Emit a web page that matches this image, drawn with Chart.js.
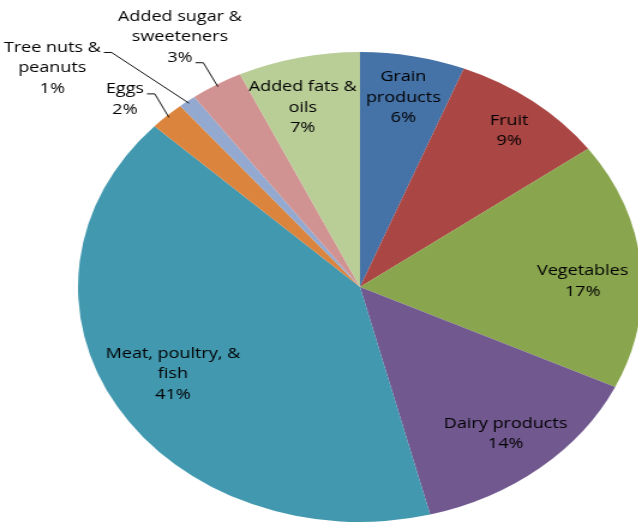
<!DOCTYPE html>
<html>
<head>
<meta charset="utf-8">
<script src="https://cdn.jsdelivr.net/npm/chart.js@4.4.0/dist/chart.umd.min.js"></script>
<style>
  html, body { margin: 0; padding: 0; background: #fff; overflow: hidden; }
  #wrap { width: 638px; height: 522px; overflow: hidden; position: relative; }
  /* the original pie is an ellipse, so the canvas is stretched sideways */
  #pie { position: absolute; left: 0; top: 0; transform: scaleX(1.2); transform-origin: 0 0; }
</style>
</head>
<body>
<div id="wrap"><canvas id="pie" width="536" height="522"></canvas></div>
<script>
const categories = [
    ['Grain', 'products'],
    ['Fruit'],
    ['Vegetables'],
    ['Dairy products'],
    ['Meat, poultry, &', 'fish'],
    ['Eggs'],
    ['Tree nuts &', 'peanuts'],
    ['Added sugar &', 'sweeteners'],
    ['Added fats &', 'oils'],
]
const shares = [6, 9, 17, 14, 41, 2, 1, 3, 7]

const sliceColors = ['#4572A7', '#AA4643', '#89A54E', '#71588F', '#4198AF', '#DB843D', '#93A9CF', '#D19392', '#B9CD96']

// where each label sits: fraction of radius, turn from mid angle (deg), leader line row (-1 = none)
const labelPlace = [
    { r: 0.82, turn: 0, leader: -1 },
    { r: 0.85, turn: 0.7, leader: -1 },
    { r: 0.79, turn: 3.6, leader: -1 },
    { r: 0.81, turn: 0, leader: -1 },
    { r: 0.76, turn: 1.4, leader: -1 },
    { r: 1.155, turn: -3, leader: 0 },
    { r: 1.435, turn: -11.7, leader: 0 },
    { r: 1.24, turn: -0.4, leader: 2 },
    { r: 0.79, turn: -2.3, leader: -1 },
]

const lineHeight = 20.5

const sliceLabels = {
    id: 'sliceLabels',
    afterDatasetsDraw(chart) {
        const ctx = chart.ctx
        const meta = chart.getDatasetMeta(0)
        ctx.save()
        ctx.font = '15px "Open Sans"'
        ctx.fillStyle = '#000'
        ctx.strokeStyle = '#111'
        ctx.lineWidth = 1
        ctx.textAlign = 'center'
        ctx.textBaseline = 'middle'
        meta.data.forEach((arc, i) => {
            const { x, y, startAngle, endAngle, outerRadius } = arc.getProps(['x', 'y', 'startAngle', 'endAngle', 'outerRadius'], true)
            const place = labelPlace[i]
            const mid = (startAngle + endAngle) / 2
            const a = mid + place.turn * Math.PI / 180
            const lx = x + Math.cos(a) * outerRadius * place.r
            const ly = y + Math.sin(a) * outerRadius * place.r
            const lines = categories[i].concat([shares[i] + '%'])
            const top = ly - (lines.length - 1) * lineHeight / 2
            lines.forEach((t, k) => ctx.fillText(t, lx, top + k * lineHeight))
            if (place.leader >= 0) {
                const row = lines[place.leader]
                const sx = lx + ctx.measureText(row).width / 2 + 2.5
                const sy = top + place.leader * lineHeight + 5
                const ex = x + Math.cos(mid) * outerRadius * 0.99
                const ey = y + Math.sin(mid) * outerRadius * 0.99
                ctx.beginPath()
                ctx.moveTo(sx, sy)
                ctx.lineTo(sx + 6.5, sy)
                ctx.lineTo(ex, ey)
                ctx.stroke()
            }
        })
        ctx.restore()
    }
}

new Chart(document.getElementById('pie'), {
    type: 'pie',
    data: {
        labels: categories.map(c => c.join(' ')),
        datasets: [
            {
                data: shares,
                backgroundColor: sliceColors,
                borderWidth: 0,
            },
        ],
    },
    options: {
        responsive: false,
        animation: false,
        layout: {
            padding: { left: 65, right: 1, top: 52, bottom: 0 },
        },
        plugins: {
            legend: { display: false },
            tooltip: { enabled: false },
        },
    },
    plugins: [sliceLabels],
})
</script>
</body>
</html>
